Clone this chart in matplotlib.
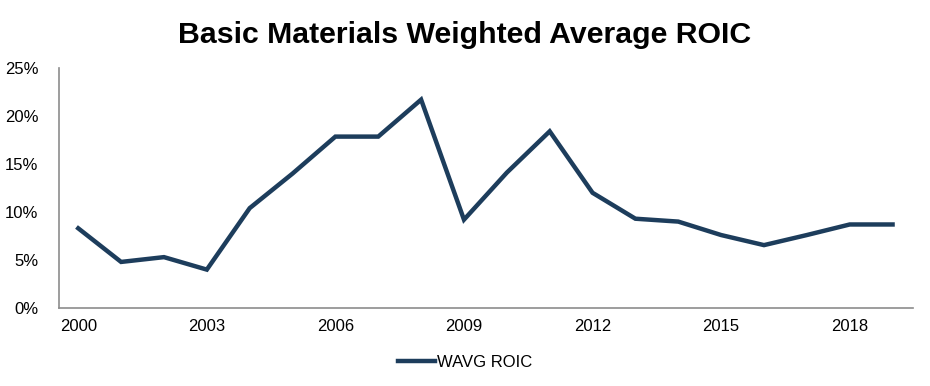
import matplotlib.pyplot as plt
from matplotlib.ticker import PercentFormatter

plt.rcParams["font.family"] = ["Liberation Sans", "DejaVu Sans"]

years = list(range(2000, 2020))
wavg_roic = [8.3, 4.8, 5.3, 4.0, 10.4, 14.0, 17.85, 17.85, 21.7, 9.2,
             14.1, 18.4, 12.0, 9.3, 9.0, 7.6, 6.55, 7.6, 8.7, 8.7]
xtick_years = [2000, 2003, 2006, 2009, 2012, 2015, 2018]

fig = plt.figure(figsize=(9.3, 3.86), dpi=100)
ax = fig.add_axes([0.0634, 0.202, 0.918, 0.622])

ax.plot(years, wavg_roic, color="#1d3d5c", linewidth=3.2, label="WAVG ROIC",
        solid_joinstyle="miter")

ax.set_xlim(1999.55, 2019.47)
ax.set_ylim(0, 25)
ax.set_yticks([0, 5, 10, 15, 20, 25])
ax.yaxis.set_major_formatter(PercentFormatter(decimals=0))
ax.set_xticks(xtick_years)
ax.tick_params(length=0, labelsize=12, colors="#000000")
ax.tick_params(axis="y", pad=15)
ax.tick_params(axis="x", pad=8)

for s in ["top", "right"]:
    ax.spines[s].set_visible(False)
for s in ["left", "bottom"]:
    ax.spines[s].set_color("#8c8c8c")
    ax.spines[s].set_linewidth(1.2)

fig.suptitle("Basic Materials Weighted Average ROIC", fontsize=21.8,
             fontweight="bold", y=0.945)

fig.legend(loc="center", bbox_to_anchor=(0.5, 0.062), frameon=False,
           fontsize=12, handlelength=2.2, handletextpad=0.1)

fig.savefig("out.png", dpi=100)
